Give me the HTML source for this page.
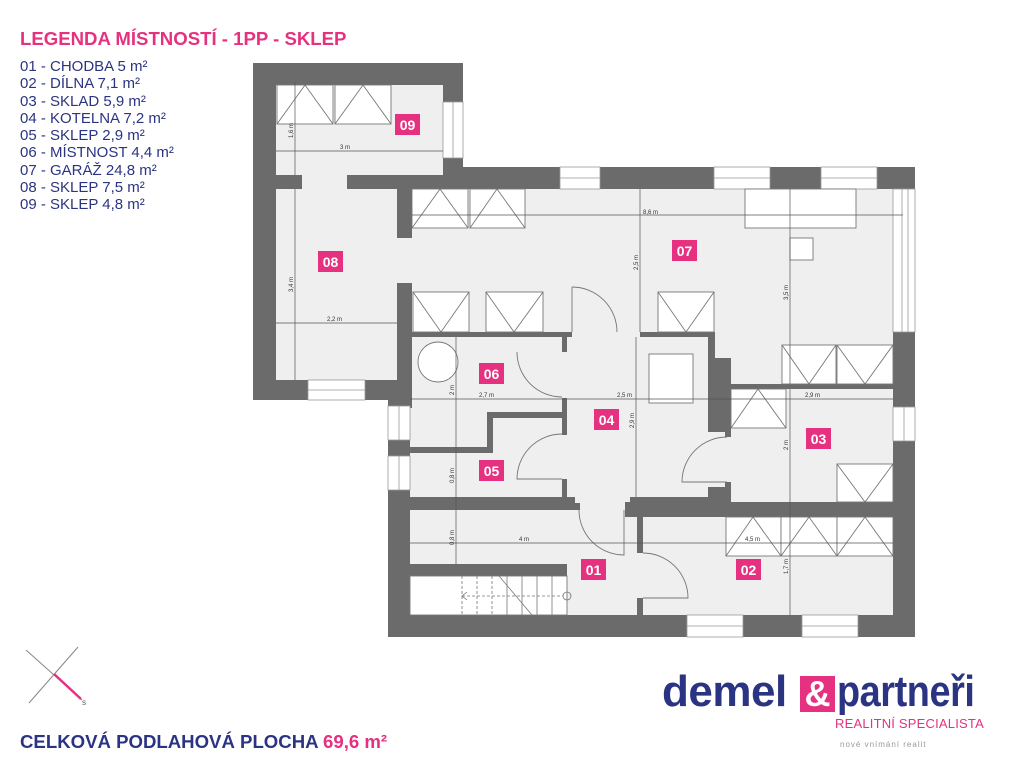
<!DOCTYPE html>
<html><head><meta charset="utf-8"><style>
html,body{margin:0;padding:0;background:#fff;}
body{width:1024px;height:768px;overflow:hidden;position:relative;font-family:"Liberation Sans",sans-serif;}
.t{position:absolute;white-space:nowrap;}
</style></head><body>
<div class="t" style="left:20px;top:28px;font-size:18.6px;font-weight:bold;color:#e5317f;">LEGENDA MÍSTNOSTÍ - 1PP - SKLEP</div>
<div class="t" style="left:20px;top:58px;font-size:15px;line-height:17.3px;color:#2b3482;">01 - CHODBA 5 m²<br>02 - DÍLNA 7,1 m²<br>03 - SKLAD 5,9 m²<br>04 - KOTELNA 7,2 m²<br>05 - SKLEP 2,9 m²<br>06 - MÍSTNOST 4,4 m²<br>07 - GARÁŽ 24,8 m²<br>08 - SKLEP 7,5 m²<br>09 - SKLEP 4,8 m²</div>
<div class="t" style="left:20px;top:731px;font-size:18.6px;font-weight:bold;color:#2b3482;">CELKOVÁ PODLAHOVÁ PLOCHA <span style="color:#e5317f">69,6 m²</span></div>
<div class="t" style="left:662px;top:667px;font-size:44px;font-weight:bold;color:#2b3482;letter-spacing:-0.5px;">demel</div>
<div class="t" style="left:800px;top:676px;width:35px;height:36px;background:#e5317f;color:#fff;font-size:36px;line-height:36px;text-align:center;font-weight:bold;">&amp;</div>
<div class="t" style="left:837px;top:667px;font-size:44px;font-weight:bold;color:#2b3482;letter-spacing:-0.5px;transform:scaleX(0.86);transform-origin:0 0;">partneři</div>
<div class="t" style="left:835px;top:716px;font-size:13px;color:#e5317f;letter-spacing:0.2px;">REALITNÍ SPECIALISTA</div>
<div class="t" style="left:840px;top:740px;font-size:8px;color:#999;letter-spacing:1px;">nové vnímání realit</div>

<svg width="1024" height="768" style="position:absolute;left:0;top:0" xmlns="http://www.w3.org/2000/svg" font-family="Liberation Sans, sans-serif">
<line x1="26" y1="650" x2="82" y2="700" stroke="#888" stroke-width="1"/>
<line x1="78" y1="647" x2="29" y2="703" stroke="#888" stroke-width="1"/>
<line x1="54" y1="674" x2="81" y2="699" stroke="#e5317f" stroke-width="2.5"/>
<text x="82" y="705" font-size="6" fill="#333">S</text>

<g fill="#efefef">
<rect x="276" y="85" width="167" height="90"/>
<rect x="276" y="175" width="136" height="205"/>
<rect x="412" y="189" width="481" height="144"/>
<rect x="410" y="333" width="483" height="282"/>
</g>
<g fill="#6b6b6b">
<rect x="253" y="63" width="210" height="22"/>
<rect x="253" y="63" width="23" height="337"/>
<rect x="443" y="63" width="20" height="39"/>
<rect x="443" y="158" width="20" height="31"/>
<rect x="276" y="175" width="26" height="14"/>
<rect x="347" y="175" width="96" height="14"/>
<rect x="443" y="167" width="472" height="22"/>
<rect x="893" y="167" width="22" height="22"/>
<rect x="397" y="189" width="15" height="49"/>
<rect x="397" y="283" width="15" height="125"/>
<rect x="253" y="380" width="159" height="20"/>
<rect x="893" y="332" width="22" height="75"/>
<rect x="893" y="441" width="22" height="196"/>
<rect x="388" y="400" width="22" height="6"/>
<rect x="388" y="440" width="22" height="16"/>
<rect x="388" y="490" width="22" height="147"/>
<rect x="388" y="615" width="527" height="22"/>
<rect x="412" y="332" width="160" height="5"/>
<rect x="562" y="332" width="5" height="20"/>
<rect x="640" y="332" width="75" height="5"/>
<rect x="708" y="332" width="7" height="30"/>
<rect x="708" y="358" width="23" height="74"/>
<rect x="725" y="430" width="6" height="7"/>
<rect x="731" y="384" width="162" height="5"/>
<rect x="562" y="398" width="5" height="37"/>
<rect x="562" y="479" width="5" height="20"/>
<rect x="410" y="447" width="83" height="6"/>
<rect x="487" y="412" width="6" height="41"/>
<rect x="487" y="412" width="80" height="6"/>
<rect x="388" y="497" width="187" height="13"/>
<rect x="570" y="503" width="10" height="7"/>
<rect x="725" y="482" width="6" height="15"/>
<rect x="708" y="487" width="23" height="15"/>
<rect x="630" y="497" width="101" height="8"/>
<rect x="625" y="502" width="268" height="15"/>
<rect x="637" y="510" width="6" height="43"/>
<rect x="637" y="598" width="6" height="17"/>
<rect x="410" y="564" width="157" height="12"/>
</g>
<g fill="#fff" stroke="#999" stroke-width="0.8">
<rect x="443" y="102" width="20" height="56"/><line x1="453" y1="102" x2="453" y2="158"/>
<rect x="308" y="380" width="57" height="20"/><line x1="308" y1="390" x2="365" y2="390"/>
<rect x="560" y="167" width="40" height="22"/><line x1="560" y1="178" x2="600" y2="178"/>
<rect x="714" y="167" width="56" height="22"/><line x1="714" y1="178" x2="770" y2="178"/>
<rect x="821" y="167" width="56" height="22"/><line x1="821" y1="178" x2="877" y2="178"/>
<rect x="893" y="189" width="22" height="143"/><line x1="902" y1="189" x2="902" y2="332"/><line x1="908" y1="189" x2="908" y2="332"/>
<rect x="893" y="407" width="22" height="34"/><line x1="904" y1="407" x2="904" y2="441"/>
<rect x="388" y="406" width="22" height="34"/><line x1="399" y1="406" x2="399" y2="440"/>
<rect x="388" y="456" width="22" height="34"/><line x1="399" y1="456" x2="399" y2="490"/>
<rect x="687" y="615" width="56" height="22"/><line x1="687" y1="626" x2="743" y2="626"/>
<rect x="802" y="615" width="56" height="22"/><line x1="802" y1="626" x2="858" y2="626"/>
</g>
<g fill="#fff" stroke="#777" stroke-width="0.9">
<rect x="277" y="85" width="56" height="39"/><path d="M277 124 L305 85 L333 124" fill="none"/>
<rect x="335" y="85" width="56" height="39"/><path d="M335 124 L363 85 L391 124" fill="none"/>
<rect x="412" y="189" width="56" height="39"/><path d="M412 228 L440 189 L468 228" fill="none"/>
<rect x="470" y="189" width="55" height="39"/><path d="M470 228 L497 189 L525 228" fill="none"/>
<rect x="745" y="189" width="111" height="39"/>
<rect x="790" y="238" width="23" height="22"/>
<rect x="413" y="292" width="56" height="40"/><path d="M413 292 L441 332 L469 292" fill="none"/>
<rect x="486" y="292" width="57" height="40"/><path d="M486 292 L514 332 L543 292" fill="none"/>
<rect x="658" y="292" width="56" height="40"/><path d="M658 292 L686 332 L714 292" fill="none"/>
<rect x="782" y="345" width="54" height="39"/><path d="M782 345 L809 384 L836 345" fill="none"/>
<rect x="837" y="345" width="56" height="39"/><path d="M837 345 L865 384 L893 345" fill="none"/>
<rect x="731" y="389" width="55" height="39"/><path d="M731 428 L758 389 L786 428" fill="none"/>
<rect x="837" y="464" width="56" height="38"/><path d="M837 464 L865 502 L893 464" fill="none"/>
<rect x="726" y="517" width="55" height="39"/><path d="M726 556 L753 517 L781 556" fill="none"/>
<rect x="781" y="517" width="56" height="39"/><path d="M781 556 L809 517 L837 556" fill="none"/>
<rect x="837" y="517" width="56" height="39"/><path d="M837 556 L865 517 L893 556" fill="none"/>
<rect x="649" y="354" width="44" height="49"/>
<circle cx="438" cy="362" r="20"/>
<rect x="410" y="576" width="157" height="39"/>
</g>
<g stroke="#777" stroke-width="0.8" fill="none">
<line x1="462" y1="576" x2="462" y2="615" stroke-dasharray="3,2"/>
<line x1="477" y1="576" x2="477" y2="615" stroke-dasharray="3,2"/>
<line x1="492" y1="576" x2="492" y2="615" stroke-dasharray="3,2"/>
<line x1="507" y1="576" x2="507" y2="615"/>
<line x1="522" y1="576" x2="522" y2="615"/>
<line x1="537" y1="576" x2="537" y2="615"/>
<line x1="552" y1="576" x2="552" y2="615"/>
<line x1="499" y1="576" x2="532" y2="615"/>
<line x1="462" y1="596" x2="563" y2="596" stroke-dasharray="3,2"/>
<circle cx="567" cy="596" r="4"/>
<path d="M467 592 L462 596 L467 600"/>
</g>
<g stroke="#777" stroke-width="0.9" fill="none">
<path d="M572 287 A45 45 0 0 1 617 332"/><line x1="572" y1="287" x2="572" y2="332"/>
<path d="M517 352 A45 45 0 0 0 562 397"/>
<path d="M562 434 A45 45 0 0 0 517 479 L562 479"/>
<path d="M727 437 A45 45 0 0 0 682 482 L727 482"/>
<path d="M579 510 A45 45 0 0 0 624 555 L624 510"/>
<path d="M643 553 A45 45 0 0 1 688 598 L643 598"/>
</g>
<g stroke="#555" stroke-width="0.7">
<line x1="295" y1="82" x2="295" y2="175"/>
<line x1="276" y1="151" x2="443" y2="151"/>
<line x1="295" y1="189" x2="295" y2="380"/>
<line x1="276" y1="323" x2="397" y2="323"/>
<line x1="412" y1="215" x2="903" y2="215"/>
<line x1="640" y1="189" x2="640" y2="332"/>
<line x1="790" y1="189" x2="790" y2="384"/>
<line x1="456" y1="337" x2="456" y2="564"/>
<line x1="410" y1="399" x2="893" y2="399"/>
<line x1="636" y1="337" x2="636" y2="497"/>
<line x1="790" y1="389" x2="790" y2="615"/>
<line x1="410" y1="543" x2="893" y2="543"/>
</g>
<g font-size="6" fill="#333">
<text x="340" y="149">3 m</text>
<text x="327" y="321">2,2 m</text>
<text x="643" y="214">8,6 m</text>
<text x="479" y="397">2,7 m</text>
<text x="617" y="397">2,5 m</text>
<text x="805" y="397">2,9 m</text>
<text x="519" y="541">4 m</text>
<text x="745" y="541">4,5 m</text>
<text transform="translate(293,138) rotate(-90)">1,6 m</text>
<text transform="translate(293,292) rotate(-90)">3,4 m</text>
<text transform="translate(638,270) rotate(-90)">2,5 m</text>
<text transform="translate(788,300) rotate(-90)">3,5 m</text>
<text transform="translate(454,395) rotate(-90)">2 m</text>
<text transform="translate(634,428) rotate(-90)">2,9 m</text>
<text transform="translate(788,450) rotate(-90)">2 m</text>
<text transform="translate(454,483) rotate(-90)">0,8 m</text>
<text transform="translate(454,545) rotate(-90)">0,8 m</text>
<text transform="translate(788,574) rotate(-90)">1,7 m</text>
</g>
<g font-size="14" font-weight="bold" fill="#fff" text-anchor="middle">
<rect x="395" y="114" width="25" height="21" fill="#e5317f"/><text x="407.5" y="130">09</text>
<rect x="318" y="251" width="25" height="21" fill="#e5317f"/><text x="330.5" y="267">08</text>
<rect x="672" y="240" width="25" height="21" fill="#e5317f"/><text x="684.5" y="256">07</text>
<rect x="479" y="363" width="25" height="21" fill="#e5317f"/><text x="491.5" y="379">06</text>
<rect x="594" y="409" width="25" height="21" fill="#e5317f"/><text x="606.5" y="425">04</text>
<rect x="806" y="428" width="25" height="21" fill="#e5317f"/><text x="818.5" y="444">03</text>
<rect x="479" y="460" width="25" height="21" fill="#e5317f"/><text x="491.5" y="476">05</text>
<rect x="581" y="559" width="25" height="21" fill="#e5317f"/><text x="593.5" y="575">01</text>
<rect x="736" y="559" width="25" height="21" fill="#e5317f"/><text x="748.5" y="575">02</text>
</g>
</svg>
</body></html>
